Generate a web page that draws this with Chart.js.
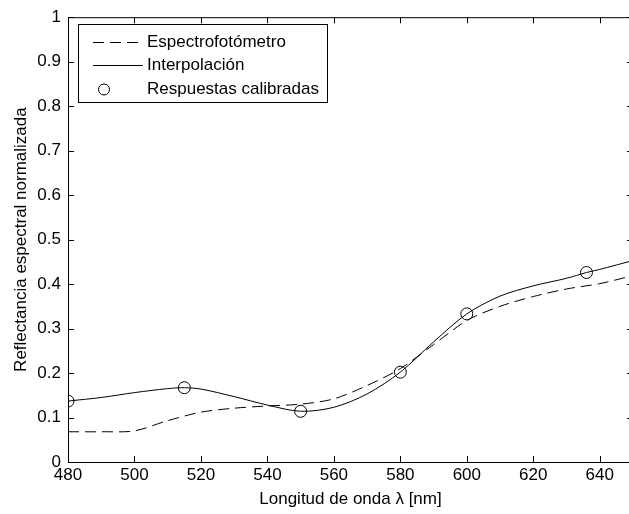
<!DOCTYPE html>
<html>
<head>
<meta charset="utf-8">
<script src="https://cdn.jsdelivr.net/npm/chart.js@4/dist/chart.umd.min.js"></script>
<style>
	html, body { margin: 0; padding: 0; background: #fff; overflow: hidden; }
	#wrap { width: 640px; height: 514px; }
</style>
</head>
<body>
<div id="wrap"><canvas id="chart" width="640" height="514"></canvas></div>
<script>
// espectrofotómetro (referencia)
const specNm = [480, 490, 500, 510, 520, 530, 540, 550, 560, 570, 580, 590, 600, 610, 620, 630, 640, 650]
const specVal = [0.068, 0.068, 0.070, 0.093, 0.112, 0.121, 0.126, 0.130, 0.142, 0.172, 0.210, 0.264, 0.318, 0.350, 0.372, 0.389, 0.401, 0.419]

// curva interpolada
const interpNm = [480, 490, 500, 510, 515, 520, 530, 540, 550, 560, 570, 580, 590, 600, 610, 620, 630, 636, 640, 650]
const interpVal = [0.137, 0.145, 0.156, 0.165, 0.167, 0.164, 0.147, 0.128, 0.114, 0.123, 0.153, 0.202, 0.270, 0.333, 0.373, 0.396, 0.413, 0.426, 0.433, 0.453]

// respuestas calibradas
const calNm = [480, 515, 550, 580, 600, 636]
const calVal = [0.137, 0.167, 0.114, 0.202, 0.333, 0.426]

const xTicks = [480, 500, 520, 540, 560, 580, 600, 620, 640]

const FONT = "'Liberation Sans', Arial, sans-serif"
const TICKFONT = "'Liberation Sans Narrow', 'Arial Narrow', 'Liberation Sans', Arial, sans-serif"

const pts = (xs, ys) => xs.map((x, i) => ({ x: x, y: ys[i] }))

// caja y marcas hacia dentro, estilo matlab
const boxTicks = {
	id: "boxTicks",
	afterDraw(chart) {
		const { ctx, chartArea: a, scales } = chart
		const len = 6
		ctx.save()
		ctx.strokeStyle = "#000"
		ctx.lineWidth = 1
		ctx.beginPath()
		ctx.rect(a.left + 0.5, a.top + 0.5, a.right - a.left, a.bottom - a.top)
		scales.x.ticks.forEach((t) => {
			const px = Math.round(scales.x.getPixelForValue(t.value)) + 0.5
			ctx.moveTo(px, a.bottom); ctx.lineTo(px, a.bottom - len)
			ctx.moveTo(px, a.top); ctx.lineTo(px, a.top + len)
		})
		scales.y.ticks.forEach((t) => {
			const py = Math.round(scales.y.getPixelForValue(t.value)) + 0.5
			ctx.moveTo(a.left, py); ctx.lineTo(a.left + len, py)
			ctx.moveTo(a.right, py); ctx.lineTo(a.right - len, py)
		})
		ctx.stroke()
		ctx.restore()
	},
}

// leyenda dentro de los ejes
const boxLegend = {
	id: "boxLegend",
	afterDraw(chart) {
		const { ctx } = chart
		const x0 = 78, y0 = 24, w = 249, h = 78
		ctx.save()
		ctx.fillStyle = "#fff"
		ctx.fillRect(x0, y0, w, h)
		ctx.strokeStyle = "#000"
		ctx.lineWidth = 1
		ctx.strokeRect(x0 + 0.5, y0 + 0.5, w, h)
		const rows = [42, 65, 89]
		ctx.setLineDash([11, 6])
		ctx.beginPath(); ctx.moveTo(93, rows[0] + 0.5); ctx.lineTo(143, rows[0] + 0.5); ctx.stroke()
		ctx.setLineDash([])
		ctx.beginPath(); ctx.moveTo(93, rows[1] + 0.5); ctx.lineTo(143, rows[1] + 0.5); ctx.stroke()
		ctx.beginPath(); ctx.arc(104, rows[2] + 0.5, 5.5, 0, Math.PI * 2); ctx.stroke()
		ctx.fillStyle = "#000"
		ctx.font = "17px " + FONT
		ctx.textBaseline = "middle"
		ctx.fillText("Espectrofotómetro", 147, rows[0])
		ctx.fillText("Interpolación", 147, rows[1])
		ctx.fillText("Respuestas calibradas", 147, rows[2])
		ctx.restore()
	},
}

new Chart(document.getElementById("chart"), {
	type: "scatter",
	data: {
		datasets: [
			{
				label: "Espectrofotómetro",
				data: pts(specNm, specVal),
				showLine: true,
				borderColor: "#000",
				borderWidth: 1,
				borderDash: [11, 6],
				pointRadius: 0,
				tension: 0.3,
			},
			{
				label: "Interpolación",
				data: pts(interpNm, interpVal),
				showLine: true,
				borderColor: "#000",
				borderWidth: 1,
				pointRadius: 0,
				tension: 0.3,
			},
			{
				label: "Respuestas calibradas",
				data: pts(calNm, calVal),
				showLine: false,
				borderColor: "#000",
				borderWidth: 1,
				backgroundColor: "rgba(0,0,0,0)",
				pointRadius: 6,
			},
		],
	},
	options: {
		responsive: false,
		animation: false,
		layout: { padding: { top: 15, right: 6, left: 0, bottom: 0 } },
		plugins: { legend: { display: false }, tooltip: { enabled: false } },
		scales: {
			x: {
				type: "linear",
				min: 480,
				max: 650,
				afterBuildTicks: (s) => { s.ticks = xTicks.map((v) => ({ value: v })) },
				afterFit: (s) => { s.height = 52 },
				grid: { display: false, drawTicks: false },
				border: { display: true, color: "#000", width: 1 },
				ticks: { color: "#000", padding: 3, maxRotation: 0, font: { family: TICKFONT, size: 17 } },
				title: { display: true, text: "Longitud de onda λ [nm]", color: "#000", padding: { top: 3 }, font: { family: FONT, size: 17 } },
			},
			y: {
				type: "linear",
				min: 0,
				max: 1,
				ticks: {
					stepSize: 0.1,
					color: "#000",
					padding: 7,
					font: { family: TICKFONT, size: 17 },
					callback: (v) => String(Number(v.toFixed(1))),
				},
				afterFit: (s) => { s.width = 68 },
				grid: { display: false, drawTicks: false },
				border: { display: true, color: "#000", width: 1 },
				title: { display: true, text: "Reflectancia espectral normalizada", color: "#000", padding: { top: 11, bottom: 0 }, font: { family: FONT, size: 17 } },
			},
		},
	},
	plugins: [boxTicks, boxLegend],
})
</script>
</body>
</html>
